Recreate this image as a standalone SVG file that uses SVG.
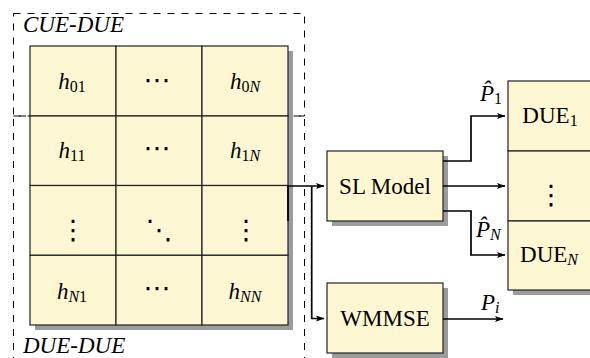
<svg xmlns="http://www.w3.org/2000/svg" width="590" height="358" viewBox="0 0 590 358">
  <style>
    .cell { fill: #fdf8d3; stroke: #222; stroke-width: 1.2; }
    .shadow { fill: #9c9c9c; }
    .zone { fill: none; stroke: #000; stroke-width: 1; stroke-dasharray: 7 7; }
    .t { font-family: "Liberation Serif", "Times New Roman", serif; font-size: 23px; fill: #000; }
    .it { font-style: italic; }
    .sub { font-size: 16px; }
    .dots { font-family: "DejaVu Serif", "DejaVu Sans", serif; font-size: 27px; fill: #000; }
    .wire { fill: none; stroke: #000; stroke-width: 1.7; }
  </style>
  <defs>
    <marker id="ah" markerUnits="userSpaceOnUse" markerWidth="10" markerHeight="8" refX="8" refY="4" orient="auto">
      <path d="M0,1 L8.5,4 L0,7 L1.8,4 z" fill="#000"/>
    </marker>
  </defs>

  <!-- dashed link zones -->
  <g id="zones">
    <rect class="zone" x="13.5" y="13.5" width="291" height="102.5"/>
    <rect class="zone" x="13.5" y="116" width="291" height="260"/>
    <text class="t it" x="23" y="32">CUE-DUE</text>
    <text class="t it" x="23" y="353">DUE-DUE</text>
  </g>

  <!-- channel matrix -->
  <g id="matrix">
    <rect class="shadow" x="35" y="51" width="258" height="279"/>
    <rect class="cell" x="30" y="46" width="86" height="70"/>
    <rect class="cell" x="116" y="46" width="86" height="70"/>
    <rect class="cell" x="202" y="46" width="86" height="70"/>
    <rect class="cell" x="30" y="116" width="86" height="69.5"/>
    <rect class="cell" x="116" y="116" width="86" height="69.5"/>
    <rect class="cell" x="202" y="116" width="86" height="69.5"/>
    <rect class="cell" x="30" y="185.5" width="86" height="69.8"/>
    <rect class="cell" x="116" y="185.5" width="86" height="69.8"/>
    <rect class="cell" x="202" y="185.5" width="86" height="69.8"/>
    <rect class="cell" x="30" y="255.3" width="86" height="69.7"/>
    <rect class="cell" x="116" y="255.3" width="86" height="69.7"/>
    <rect class="cell" x="202" y="255.3" width="86" height="69.7"/>

    <text class="t" x="72" y="89" text-anchor="middle"><tspan class="it">h</tspan><tspan class="sub" dy="3">01</tspan></text>
    <text class="dots" x="157" y="89" text-anchor="middle">⋯</text>
    <text class="t" x="245" y="89" text-anchor="middle"><tspan class="it">h</tspan><tspan class="sub" dy="3">0</tspan><tspan class="sub it">N</tspan></text>

    <text class="t" x="72" y="158" text-anchor="middle"><tspan class="it">h</tspan><tspan class="sub" dy="3">11</tspan></text>
    <text class="dots" x="157" y="157" text-anchor="middle">⋯</text>
    <text class="t" x="245" y="158" text-anchor="middle"><tspan class="it">h</tspan><tspan class="sub" dy="3">1</tspan><tspan class="sub it">N</tspan></text>

    <text class="dots" x="73" y="239" text-anchor="middle">⋮</text>
    <text class="dots" x="159" y="239" text-anchor="middle">⋱</text>
    <text class="dots" x="246" y="239" text-anchor="middle">⋮</text>

    <text class="t" x="72" y="299" text-anchor="middle"><tspan class="it">h</tspan><tspan class="sub it" dy="3">N</tspan><tspan class="sub">1</tspan></text>
    <text class="dots" x="157" y="297" text-anchor="middle">⋯</text>
    <text class="t" x="245" y="299" text-anchor="middle"><tspan class="it">h</tspan><tspan class="sub it" dy="3">NN</tspan></text>
  </g>

  <!-- supervised-learning model -->
  <g id="sl-model">
    <rect class="shadow" x="332" y="156" width="116" height="70"/>
    <rect class="cell" x="327" y="151" width="116" height="70"/>
    <text class="t" x="385" y="194" text-anchor="middle">SL Model</text>
  </g>

  <!-- WMMSE solver -->
  <g id="wmmse">
    <rect class="shadow" x="332" y="288" width="116" height="70"/>
    <rect class="cell" x="327" y="283" width="116" height="70"/>
    <text class="t" x="385" y="326" text-anchor="middle">WMMSE</text>
  </g>

  <!-- D2D users -->
  <g id="due">
    <rect class="shadow" x="513" y="86" width="86" height="209"/>
    <rect class="cell" x="508" y="81" width="86" height="70"/>
    <rect class="cell" x="508" y="151" width="86" height="70"/>
    <rect class="cell" x="508" y="221" width="86" height="69"/>
    <text class="t" x="550" y="123" text-anchor="middle">DUE<tspan class="sub" dy="3">1</tspan></text>
    <text class="dots" x="551" y="204" text-anchor="middle">⋮</text>
    <text class="t" x="549" y="262" text-anchor="middle">DUE<tspan class="sub it" dy="3">N</tspan></text>
  </g>

  <!-- connectors -->
  <g id="connectors">
    <path class="wire" d="M288,221 V186 H324" marker-end="url(#ah)"/>
    <path class="wire" d="M311.7,186 V318.5 H324" marker-end="url(#ah)"/>
    <path class="wire" d="M443,161 H471 V116 H505" marker-end="url(#ah)"/>
    <path class="wire" d="M443,186 H505" marker-end="url(#ah)"/>
    <path class="wire" d="M443,211 H471 V255 H505" marker-end="url(#ah)"/>
    <path class="wire" d="M443,319 H503" marker-end="url(#ah)"/>
    <text class="t it" x="480" y="101">P̂<tspan class="sub" font-style="normal" dy="3">1</tspan></text>
    <text class="t it" x="476" y="237">P̂<tspan class="sub" dy="3">N</tspan></text>
    <text class="t it" x="481" y="310">P<tspan class="sub" dy="3">i</tspan></text>
  </g>
</svg>
